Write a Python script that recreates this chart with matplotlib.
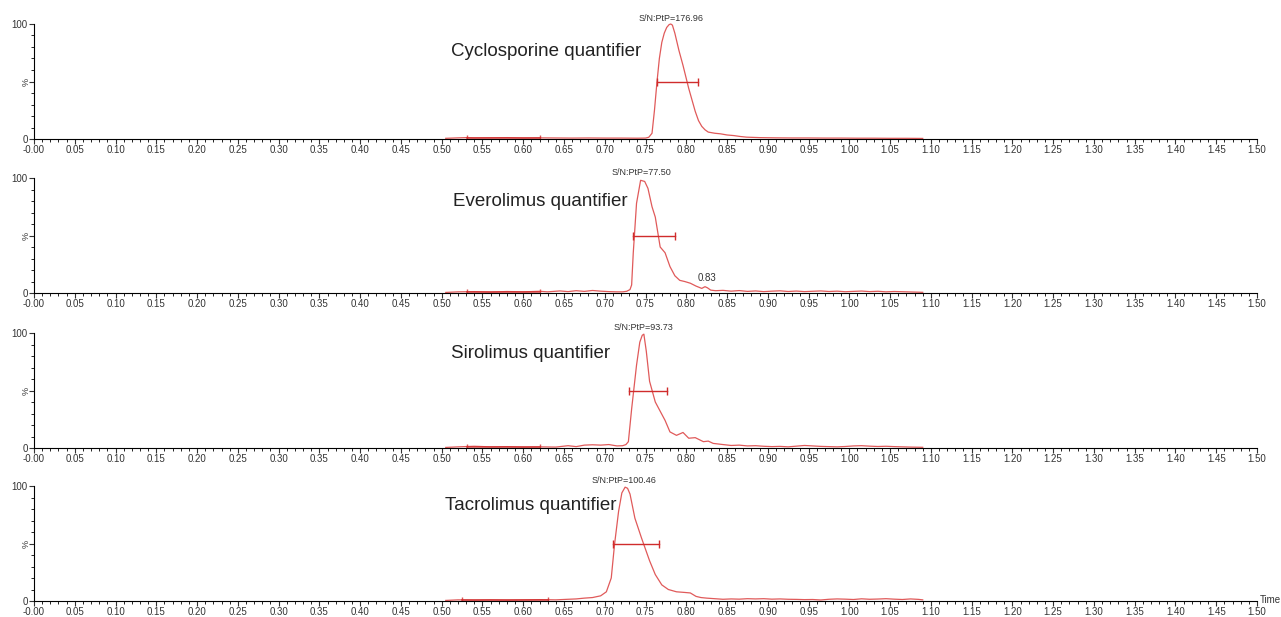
import numpy as np
import matplotlib.pyplot as plt
from matplotlib.ticker import MultipleLocator

plt.rcParams['font.family'] = ['Liberation Sans', 'DejaVu Sans']

# Nombres de los compuestos y anotaciones
compuestos = ['Cyclosporine quantifier', 'Everolimus quantifier',
              'Sirolimus quantifier', 'Tacrolimus quantifier']
sn_textos = ['S/N:PtP=176.96', 'S/N:PtP=77.50', 'S/N:PtP=93.73', 'S/N:PtP=100.46']
pico_t = [0.781, 0.745, 0.748, 0.723]

# Cromatogramas (tiempo [min], intensidad relativa [%])
t_ciclo = [0.505, 0.52, 0.53, 0.54, 0.56, 0.58, 0.60, 0.62, 0.64, 0.66, 0.68, 0.70, 0.72,
           0.74, 0.750, 0.754, 0.758, 0.761, 0.764, 0.767, 0.770, 0.773, 0.776, 0.779,
           0.781, 0.783, 0.786, 0.791, 0.796, 0.803, 0.811, 0.815, 0.819, 0.823, 0.827,
           0.835, 0.842, 0.850, 0.858, 0.866, 0.874, 0.89, 0.91, 0.93, 0.95, 0.97, 0.99,
           1.01, 1.03, 1.05, 1.07, 1.09]
i_ciclo = [0.6, 1.0, 1.2, 1.0, 1.1, 1.2, 0.9, 1.0, 0.9, 0.8, 0.9, 0.8, 0.8,
           0.7, 0.8, 1.5, 5, 25, 49, 70, 84, 92, 97, 99.5,
           100, 99, 92, 77, 64, 44, 24, 16, 11, 8, 6,
           5, 4.5, 3.5, 3, 2.2, 1.6, 1.2, 1.0, 0.9, 0.9, 0.8, 0.8,
           0.7, 0.7, 0.6, 0.6, 0.5]

t_evero = [0.505, 0.52, 0.54, 0.56, 0.58, 0.60, 0.62, 0.63, 0.645, 0.655, 0.665, 0.675,
           0.685, 0.695, 0.705, 0.715, 0.722, 0.727, 0.731, 0.733, 0.735, 0.739, 0.744,
           0.749, 0.753, 0.758, 0.762, 0.768, 0.774, 0.780, 0.786, 0.792, 0.798, 0.805,
           0.812, 0.819, 0.823, 0.826, 0.830, 0.836, 0.845, 0.855, 0.865, 0.875, 0.885,
           0.895, 0.905, 0.915, 0.925, 0.935, 0.945, 0.955, 0.965, 0.975, 0.985, 0.995,
           1.005, 1.015, 1.025, 1.035, 1.045, 1.055, 1.065, 1.075, 1.09]
i_evero = [0.5, 1.0, 1.2, 0.8, 1.3, 1.0, 1.5, 1.0, 1.8, 1.2, 2.0, 1.4,
           2.2, 1.6, 1.2, 1.0, 1.0, 1.5, 3, 7, 35, 78, 98,
           97, 91, 75, 66, 40, 35, 23, 15, 11, 10, 8.5,
           6, 4, 5.5, 4.5, 2.5, 2.0, 2.3, 1.6, 2.1, 1.4, 1.8,
           1.2, 1.6, 1.9, 1.3, 1.7, 1.2, 1.5, 1.8, 1.3, 1.6, 1.1,
           1.4, 1.7, 1.2, 1.5, 1.0, 1.3, 1.1, 0.9, 0.6]

t_siro = [0.505, 0.52, 0.54, 0.56, 0.58, 0.60, 0.62, 0.64, 0.655, 0.665, 0.675, 0.685,
          0.695, 0.705, 0.715, 0.722, 0.726, 0.729, 0.733, 0.739, 0.743, 0.746, 0.748,
          0.751, 0.755, 0.762, 0.768, 0.774, 0.780, 0.788, 0.796, 0.803, 0.811, 0.821,
          0.827, 0.833, 0.845, 0.855, 0.865, 0.875, 0.885, 0.895, 0.905, 0.915, 0.925,
          0.935, 0.945, 0.955, 0.965, 0.975, 0.985, 0.995, 1.005, 1.015, 1.025, 1.035,
          1.045, 1.055, 1.065, 1.075, 1.09]
i_siro = [0.5, 1.0, 1.5, 1.0, 1.2, 0.8, 1.0, 0.8, 2.0, 1.2, 2.5, 2.8,
          2.5, 3.0, 1.8, 2.0, 3, 5.5, 34, 72, 92, 98, 99,
          84, 58, 40, 32, 24, 14, 11, 13.5, 8.5, 9, 5.5,
          6, 4, 3, 2.2, 2.5, 1.8, 2.0, 1.5, 1.2, 1.4, 1.0,
          1.6, 2.2, 1.8, 1.4, 1.2, 1.0, 1.3, 1.8, 2.0, 1.6, 1.3,
          1.5, 1.2, 1.0, 0.8, 0.6]

t_tacro = [0.505, 0.52, 0.54, 0.56, 0.58, 0.60, 0.62, 0.64, 0.655, 0.665, 0.675, 0.685,
           0.695, 0.702, 0.708, 0.712, 0.717, 0.721, 0.725, 0.728, 0.731, 0.737, 0.745,
           0.751, 0.755, 0.762, 0.770, 0.778, 0.788, 0.797, 0.805, 0.812, 0.818, 0.825,
           0.835, 0.845, 0.855, 0.865, 0.875, 0.885, 0.895, 0.905, 0.915, 0.925, 0.935,
           0.945, 0.955, 0.965, 0.975, 0.985, 0.995, 1.005, 1.015, 1.025, 1.035, 1.045,
           1.055, 1.065, 1.075, 1.085, 1.09]
i_tacro = [0.5, 1.0, 0.8, 1.0, 0.8, 1.0, 1.2, 1.0, 1.5, 1.8, 2.5, 3.0,
           4.5, 8, 20, 49, 78, 94, 99, 98, 93, 72, 55,
           43, 35, 23, 14, 10, 8, 7.5, 7, 4, 3, 2.5,
           2.0, 1.5, 1.8, 1.6, 2.0, 1.8, 2.0, 1.6, 1.8, 1.5, 1.4,
           1.2, 1.3, 0.9, 1.5, 1.8, 1.6, 1.3, 1.9, 1.5, 1.7, 2.0,
           1.6, 1.3, 1.8, 1.4, 1.0]

# Ancho a media altura (inicio, fin) y región de ruido
fwhm = [(0.764, 0.815), (0.735, 0.786), (0.730, 0.776), (0.7105, 0.766)]
ruido = [(0.531, 0.620), (0.531, 0.620), (0.531, 0.620), (0.525, 0.630)]

trazas = [(t_ciclo, i_ciclo), (t_evero, i_evero), (t_siro, i_siro), (t_tacro, i_tacro)]

color_traza = '#e05a5a'
color_barra = '#d02c2c'

fig = plt.figure(figsize=(12.81, 6.17), dpi=100)

izq, der = 34 / 1281, 1257 / 1281
y_cero = [139, 293, 448, 601]
alto = 115
# posición de la etiqueta del compuesto (x en tiempo, y en %)
etiqueta_x = [0.511, 0.514, 0.511, 0.504]
etiqueta_y = [76, 80, 82, 83]

xticks = np.round(np.arange(0, 1.501, 0.05), 2)
xlabels = ['-0.00'] + [f'{v:.2f}' for v in xticks[1:]]

for k, (t, y) in enumerate(trazas):
    base = 1 - y_cero[k] / 617
    ax = fig.add_axes([izq, base, der - izq, alto / 617])

    ax.plot(t, y, color=color_traza, lw=0.9, clip_on=False)

    # barra de FWHM
    ax.plot(fwhm[k], [50, 50], color=color_barra, lw=1.0, marker='|', ms=6, mew=1.0)
    # región de ruido
    ax.plot(ruido[k], [0.8, 0.8], color=color_barra, lw=1.2, marker='|', ms=4, mew=1.0,
            alpha=0.8)

    ax.text(pico_t[k], 100.5, sn_textos[k], ha='center', va='bottom', fontsize=6.5,
            color='#333333', clip_on=False)
    ax.text(etiqueta_x[k], etiqueta_y[k], compuestos[k], ha='left', va='center',
            fontsize=13.5, color='#222222')
    if k == 1:
        ax.text(0.825, 9, '0.83', ha='center', va='bottom', fontsize=7, color='#333333')

    ax.set_xlim(0, 1.5)
    ax.set_ylim(0, 100)
    for s in ['top', 'right']:
        ax.spines[s].set_visible(False)
    ax.spines['left'].set_linewidth(0.8)
    ax.spines['bottom'].set_linewidth(0.8)

    ax.set_xticks(xticks)
    ax.set_xticklabels(xlabels)
    ax.xaxis.set_minor_locator(MultipleLocator(0.01))
    ax.set_yticks([0, 50, 100])
    ax.set_yticklabels(['0', '', '100'])
    ax.yaxis.set_minor_locator(MultipleLocator(10))
    ax.tick_params(axis='both', which='major', direction='out', length=3.5, width=0.8,
                   labelsize=7, pad=1, colors='#333333')
    ax.tick_params(axis='both', which='minor', direction='out', length=2, width=0.6)
    ax.text(-0.004, 50, '%', rotation=90, ha='right', va='center', fontsize=6.5,
            color='#333333')
    ax.patch.set_visible(False)

    if k == 3:
        ax.text(1.504, 1, 'Time', ha='left', va='center', fontsize=7, color='#333333',
                clip_on=False)

plt.savefig('out.png', dpi=100)
plt.close()
